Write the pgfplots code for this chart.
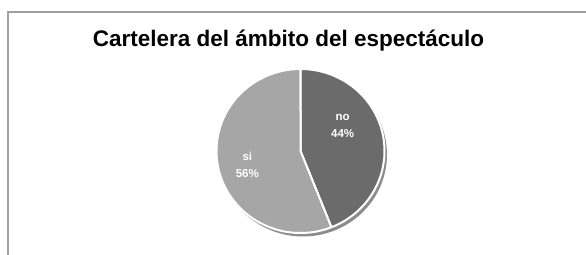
\documentclass[border=0pt]{standalone}
\usepackage{pgfplots}
\usepackage{pgfplotstable}
\pgfplotsset{compat=1.18}
\usepackage{fontspec}
\setmainfont{Liberation Sans}[BoldFont={Liberation Sans Bold}]
\definecolor{noCol}{HTML}{6B6B6B}
\definecolor{siCol}{HTML}{A6A6A6}
\definecolor{shadowCol}{HTML}{8C8C8C}
\definecolor{frameCol}{HTML}{A0A0A0}

\pgfplotstableread{
label value
no 44
si 56
}\piedata
\pgfplotstablegetelem{0}{value}\of\piedata \let\vno\pgfplotsretval
\pgfplotstablegetelem{1}{value}\of\piedata \let\vsi\pgfplotsretval

\begin{document}
\begin{tikzpicture}
\begin{axis}[
  width=586bp, height=255bp, scale only axis,
  xmin=0, xmax=586, ymin=0, ymax=255, y dir=reverse,
  hide axis, clip=false,
]
\coordinate (BBa) at (rel axis cs:0,0);
\coordinate (BBb) at (rel axis cs:1,1);
% frame (top and left edges visible)
\draw[frameCol, line width=1.5bp] (8,255) -- (8,12) -- (586,12);
% title
\node[anchor=base, font=\bfseries\fontsize{22.5bp}{26bp}\selectfont] at (288.5,46) {Cartelera del ámbito del espectáculo};
% shadow
\addplot[draw=none, fill=shadowCol, domain=0:360, samples=120]
  ({303+84*sin(x)}, {154.5-82*cos(x)}) -- cycle;
% slices
\addplot[fill=noCol, draw=white, line width=2bp, line join=round, domain=0:\vno*3.6, samples=80]
  ({300.5+84*sin(x)}, {151-82*cos(x)}) -- (300.5,151) -- cycle;
\addplot[fill=siCol, draw=white, line width=2bp, line join=round, domain=\vno*3.6:360, samples=100]
  ({300.5+84*sin(x)}, {151-82*cos(x)}) -- (300.5,151) -- cycle;
% labels
\node[anchor=base, text=white, font=\bfseries\fontsize{11.5bp}{13bp}\selectfont] at (342.7,120) {no};
\node[anchor=base, text=white, font=\bfseries\fontsize{11.5bp}{13bp}\selectfont] at (342.7,137) {\vno\%};
\node[anchor=base, text=white, font=\bfseries\fontsize{11.5bp}{13bp}\selectfont] at (247.3,160.7) {si};
\node[anchor=base, text=white, font=\bfseries\fontsize{11.5bp}{13bp}\selectfont] at (247.3,177.3) {\vsi\%};
\end{axis}
\pgfresetboundingbox
\path[use as bounding box] (BBa) rectangle (BBb);
\end{tikzpicture}
\end{document}
